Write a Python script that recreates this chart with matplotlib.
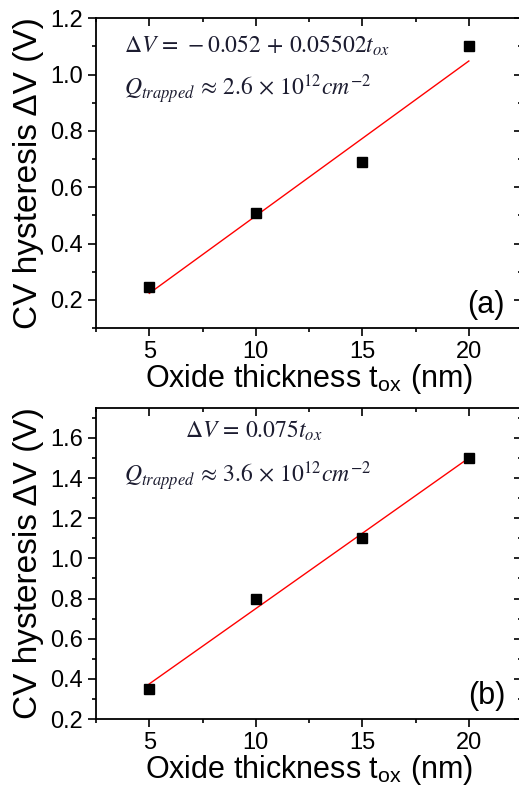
import matplotlib
matplotlib.use("Agg")
import matplotlib.pyplot as plt
from matplotlib.ticker import MultipleLocator

plt.rcParams["font.family"] = ["Liberation Sans", "DejaVu Sans"]
plt.rcParams["mathtext.fontset"] = "stix"

# thickness (nm)
thickness = [5, 10, 15, 20]
# panel (a) hysteresis (V)
dv_a = [0.245, 0.51, 0.69, 1.10]
fit_a = (-0.052, 0.05502)
# panel (b) hysteresis (V)
dv_b = [0.35, 0.80, 1.10, 1.50]
fit_b = (0.0, 0.075)

EQ_COLOR = "#1c1c30"


def _style_axes(ax, ylim, ymajor):
    ax.set_xlim(2.5, 22.5)
    ax.set_ylim(*ylim)
    ax.xaxis.set_major_locator(MultipleLocator(5))
    ax.xaxis.set_minor_locator(MultipleLocator(2.5))
    ax.yaxis.set_major_locator(MultipleLocator(ymajor))
    ax.yaxis.set_minor_locator(MultipleLocator(0.1))
    ax.tick_params(axis="both", which="both", labelsize=17, width=1.2)
    ax.tick_params(which="major", length=6)
    ax.tick_params(which="minor", length=3)
    ax.tick_params(axis="x", which="both", top=True, direction="out")
    ax.tick_params(axis="y", which="both", right=True, direction="out")
    # top/right ticks point inward like Origin
    for t in ax.xaxis.get_major_ticks() + ax.xaxis.get_minor_ticks():
        t.tick2line.set_marker(3)
    for t in ax.yaxis.get_major_ticks() + ax.yaxis.get_minor_ticks():
        t.tick2line.set_marker(0)
    for s in ax.spines.values():
        s.set_linewidth(1.3)
    ax.set_xlabel(r"Oxide thickness t$_{\mathregular{ox}}$ (nm)", fontsize=22, labelpad=-1)
    ax.set_ylabel("CV hysteresis ΔV (V)", fontsize=24, labelpad=4)


def _panel(ax, dv, fit, ylim, ymajor, label, eq, eq_x, eq_y, q_text, q_y):
    a, b = fit
    xs = [thickness[0], thickness[-1]]
    ax.plot(xs, [a + b * x for x in xs], color="red", lw=1.0)
    ax.plot(thickness, dv, "s", color="black", ms=6.5)
    _style_axes(ax, ylim, ymajor)
    ax.text(0.96, 0.025, label, transform=ax.transAxes, fontsize=22, ha="right", va="bottom")
    ax.text(eq_x, eq_y, eq, transform=ax.transAxes, fontsize=17, color=EQ_COLOR,
            ha="left", va="center")
    ax.text(0.065, q_y, q_text, transform=ax.transAxes, fontsize=17, color=EQ_COLOR,
            ha="left", va="center")


fig = plt.figure(figsize=(5.19, 7.86), dpi=100)
ax1 = fig.add_axes([0.185, 0.5827, 0.821, 0.394])
ax2 = fig.add_axes([0.185, 0.0852, 0.821, 0.396])

_panel(ax1, dv_a, fit_a, (0.1, 1.2), 0.2, "(a)",
       r"$\Delta V\,=\,-0.052\,+\,0.05502t_{ox}$", 0.065, 0.91,
       r"$Q_{trapped}\,\approx\,2.6\,\times\,10^{12}cm^{-2}$", 0.77)
_panel(ax2, dv_b, fit_b, (0.2, 1.75), 0.2, "(b)",
       r"$\Delta V\,=\,0.075t_{ox}$", 0.21, 0.927,
       r"$Q_{trapped}\,\approx\,3.6\,\times\,10^{12}cm^{-2}$", 0.78)

fig.savefig("out.png", dpi=100)
